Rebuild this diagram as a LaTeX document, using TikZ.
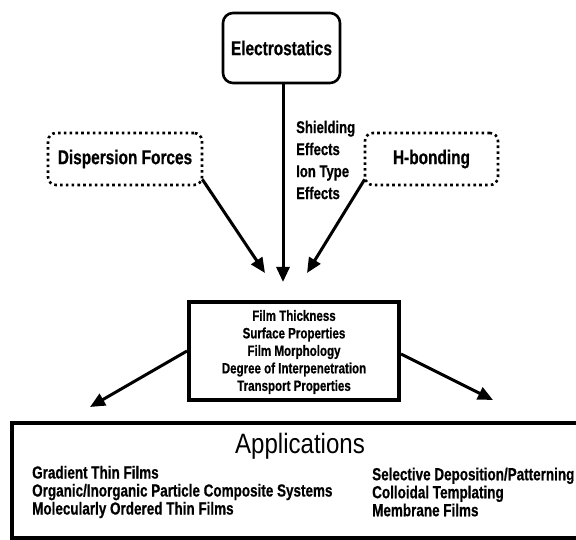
\documentclass[tikz,border=0pt]{standalone}
\usepackage{fontspec}
\setmainfont{Liberation Sans}
\newfontfamily\cf{Liberation Sans}[FakeStretch=0.77, FakeBold=0.6]
\newfontfamily\tf{Liberation Sans}[FakeStretch=0.86]
\usetikzlibrary{arrows.meta,calc}
\tikzset{
  solidbox/.style={draw, line width=2.6pt, rounded corners=10pt, inner sep=0pt},
  dotbox/.style={draw, line width=2.6pt, dash pattern=on 2.6pt off 3.2pt, rounded corners=8pt, inner sep=0pt},
  thickbox/.style={draw, line width=4pt, inner sep=0pt},
  bigtxt/.style={font={\cf\bfseries\fontsize{20}{22}\selectfont}},
  sidetxt/.style={font={\cf\bfseries\fontsize{17}{22}\selectfont}, align=left, inner sep=0pt},
  midtxt/.style={font={\cf\bfseries\fontsize{15}{17.5}\selectfont}, align=center, inner sep=0pt},
  listtxt/.style={font={\cf\bfseries\fontsize{17.5}{18}\selectfont}, align=left, inner sep=0pt},
  titletxt/.style={font={\tf\fontsize{28}{30}\selectfont}, inner sep=0pt},
  arr/.style={line width=3pt, -{Triangle[length=15pt,width=13pt]}}
}
\begin{document}
\begin{tikzpicture}[x=1pt,y=-1pt]
\useasboundingbox (0,0) rectangle (576,540);
\fill[white] (0,0) rectangle (576,540);

\node[solidbox, minimum width=117pt, minimum height=70pt, bigtxt] (elec) at (281.5,48) {Electrostatics};
\node[dotbox, minimum width=154pt, minimum height=52pt, bigtxt] (disp) at (125,159) {Dispersion Forces};
\node[dotbox, minimum width=133pt, minimum height=52pt, bigtxt] (hb) at (431.5,159) {H-bonding};

\node[sidetxt, anchor=west] (side) at (296,160) {Shielding\\Effects\\Ion Type\\Effects};

\node[thickbox, minimum width=210pt, minimum height=98pt] (mid) at (294,351) {};
\node[midtxt] (midt) at (294,352) {Film Thickness\\Surface Properties\\Film Morphology\\Degree of Interpenetration\\Transport Properties};

\node[thickbox, minimum width=568pt, minimum height=115pt] (app) at (296,480.5) {};
\node[titletxt] (title) at (300,446) {Applications};
\node[listtxt, anchor=west] (listL) at (32,492) {Gradient Thin Films\\Organic/Inorganic Particle Composite Systems\\Molecularly Ordered Thin Films};
\node[listtxt, anchor=west] (listR) at (372,492) {Selective Deposition/Patterning\\Colloidal Templating\\Membrane Films};

\coordinate (tipM) at (283,282);
\coordinate (tipL) at (265,273);
\coordinate (tipR) at (307,273);
\coordinate (tipLL) at (90,407);
\coordinate (tipRR) at (493,400);

\draw[arr] (elec.south -| tipM) -- (tipM);
\draw[arr] ($(disp.south east)+(-1,-7)$) -- (tipL);
\draw[arr] ($(hb.south west)+(1,-7)$) -- (tipR);
\draw[arr] (mid.west) -- (tipLL);
\draw[arr] ($(mid.east)+(0,3)$) -- (tipRR);
\end{tikzpicture}
\end{document}
